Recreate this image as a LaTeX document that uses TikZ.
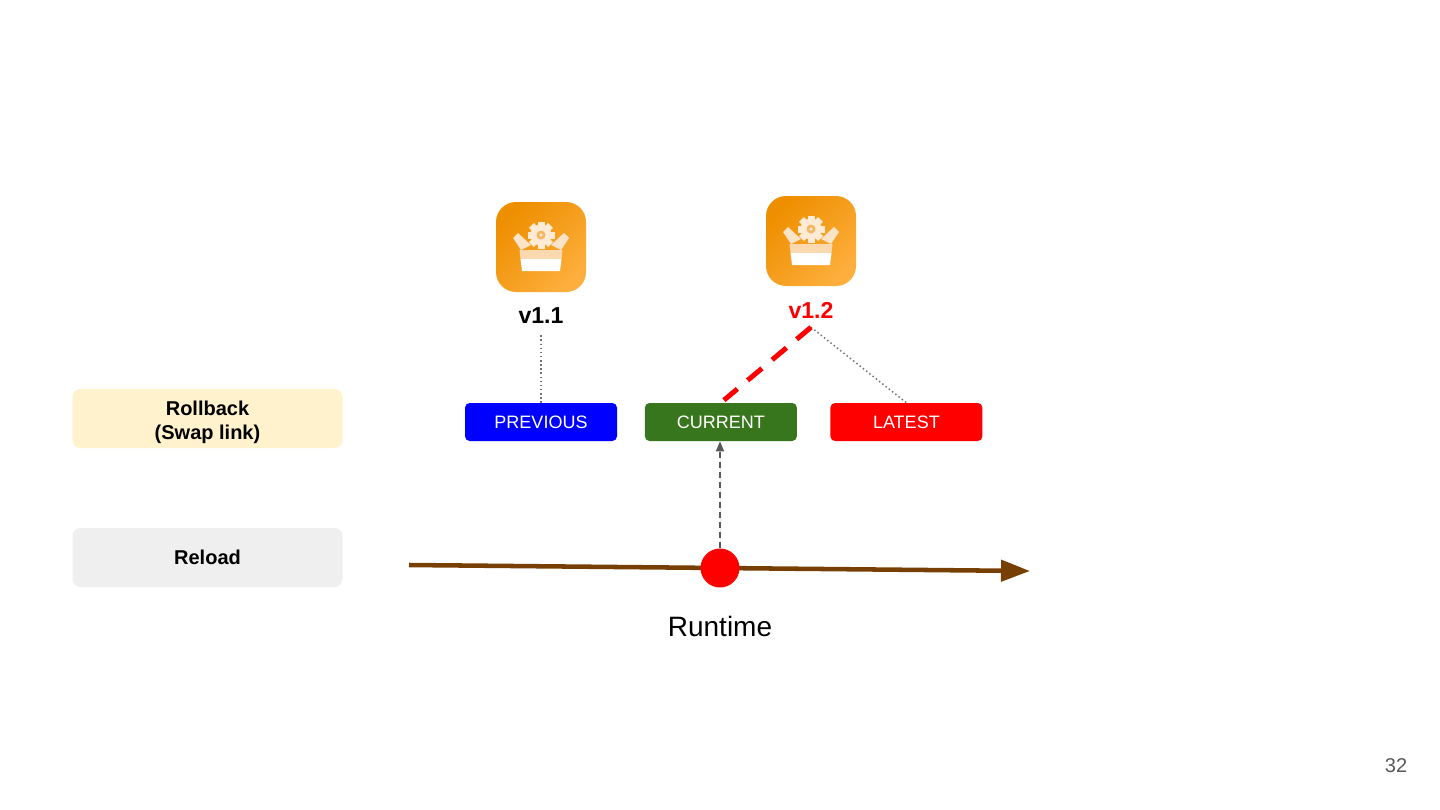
\documentclass[tikz,border=0pt]{standalone}
\usepackage{fontspec}
\setmainfont{Liberation Sans}
\usetikzlibrary{arrows.meta,positioning}
\definecolor{rollbackfill}{HTML}{FFF2CC}
\definecolor{reloadfill}{HTML}{EFEFEF}
\definecolor{prevblue}{HTML}{0000FF}
\definecolor{currgreen}{HTML}{38761D}
\definecolor{lateststred}{HTML}{FF0000}
\definecolor{rtbrown}{HTML}{783F04}
\definecolor{linegray}{HTML}{595959}
\definecolor{iconlight}{HTML}{EE8F00}
\definecolor{icondark}{HTML}{FDAE3C}
\definecolor{iconhole}{HTML}{F6B65E}
\definecolor{iconflap}{HTML}{FBE3C8}
\definecolor{iconband}{HTML}{FBD9B0}
\definecolor{icongear}{HTML}{FDEBD6}

\begin{document}
\begin{tikzpicture}[x=0.75pt,y=-0.75pt,font=\fontsize{13.5pt}{16pt}\selectfont]
\tikzset{
  side/.style={rounded corners=6pt,align=center,minimum width=202.5pt,minimum height=44.25pt,inner sep=0pt,font=\fontsize{15pt}{18pt}\selectfont\bfseries},
  link/.style={rounded corners=3.5pt,text=white,minimum width=114pt,minimum height=28.5pt,inner sep=0pt},
  ver/.style={inner sep=0pt,font=\fontsize{17.3pt}{20pt}\selectfont\bfseries},
  dots/.style={line width=1.1pt,dash pattern=on 1.1pt off 2pt,draw=linegray!85},
  pkgicon/.pic={
    \shade[rounded corners=15pt,top color=iconlight,bottom color=icondark,shading angle=45] (-45,-45) rectangle (45,45);
    \fill[iconflap] (-28,-9) -- (-23,-14) -- (-10,-2) -- (-20,3) -- cycle;
    \fill[iconflap] (28,-9) -- (23,-14) -- (10,-2) -- (20,3) -- cycle;
    \foreach \a in {0,45,...,315}
      \fill[icongear,rotate around={\a:(0,-12)}] (-3.5,-25.5) rectangle (3.5,-18);
    \fill[icongear] (0,-12) circle (10.5);
    \fill[iconhole] (0,-12) circle (4.5);
    \fill[icongear] (0,-12) circle (1.8);
    \fill[iconband] (-21.5,3) -- (21.5,3) -- (20.5,12) -- (-20.5,12) -- cycle;
    \fill[white] (-20.5,12) -- (20.5,12) -- (19,24) -- (-19,24) -- cycle;
  }
}
\useasboundingbox[fill=white] (0,0) rectangle (1440,810);

\node(rollback)[side,fill=rollbackfill] at (207.5,418.5){\rule{0pt}{16.5pt}Rollback\\(Swap link)};
\node(reload)[side,fill=reloadfill] at (207.5,557.5){Reload};

\pic(icona) at (541,247) {pkgicon};
\pic(iconb) at (811,241) {pkgicon};
\node(vone)[ver,minimum height=28.5pt] at (541,316){v1.1};
\node(vtwo)[ver,minimum height=25.5pt,text=lateststred] at (811,310){v1.2};

\node(previous)[link,fill=prevblue] at (541,422){PREVIOUS};
\node(current)[link,fill=currgreen,right=20.5pt of previous]{CURRENT};
\node(latest)[link,fill=lateststred,right=24.75pt of current]{LATEST};

\draw[dots](vone.south)--(previous.north);
\draw[dots](vtwo.south)--(latest.north);
\draw[draw=lateststred,line width=3.75pt,dash pattern=on 14pt off 10pt,shorten >=3pt](vtwo.south)--(current.north);

\coordinate(rtstart) at (409,565);
\coordinate(rtend) at (1030,571);
\draw[-{Triangle[length=21.75pt,width=15.75pt]},line width=3.4pt,draw=rtbrown,fill=rtbrown](rtstart)--(rtend);
\node(dot)[circle,fill=lateststred,minimum size=29.25pt,inner sep=0pt] at (720,568){};
\draw[-{Triangle[length=7.5pt,width=6pt]},dash pattern=on 5pt off 2.5pt,line width=1.2pt,draw=linegray,fill=linegray](dot.north)--(dot.north|-current.south);
\node(runtime)[font=\fontsize{21pt}{24pt}\selectfont] at (720,626){Runtime};
\node(pagenum)[text=linegray,font=\fontsize{15pt}{18pt}\selectfont] at (1396,766){32};
\end{tikzpicture}
\end{document}
